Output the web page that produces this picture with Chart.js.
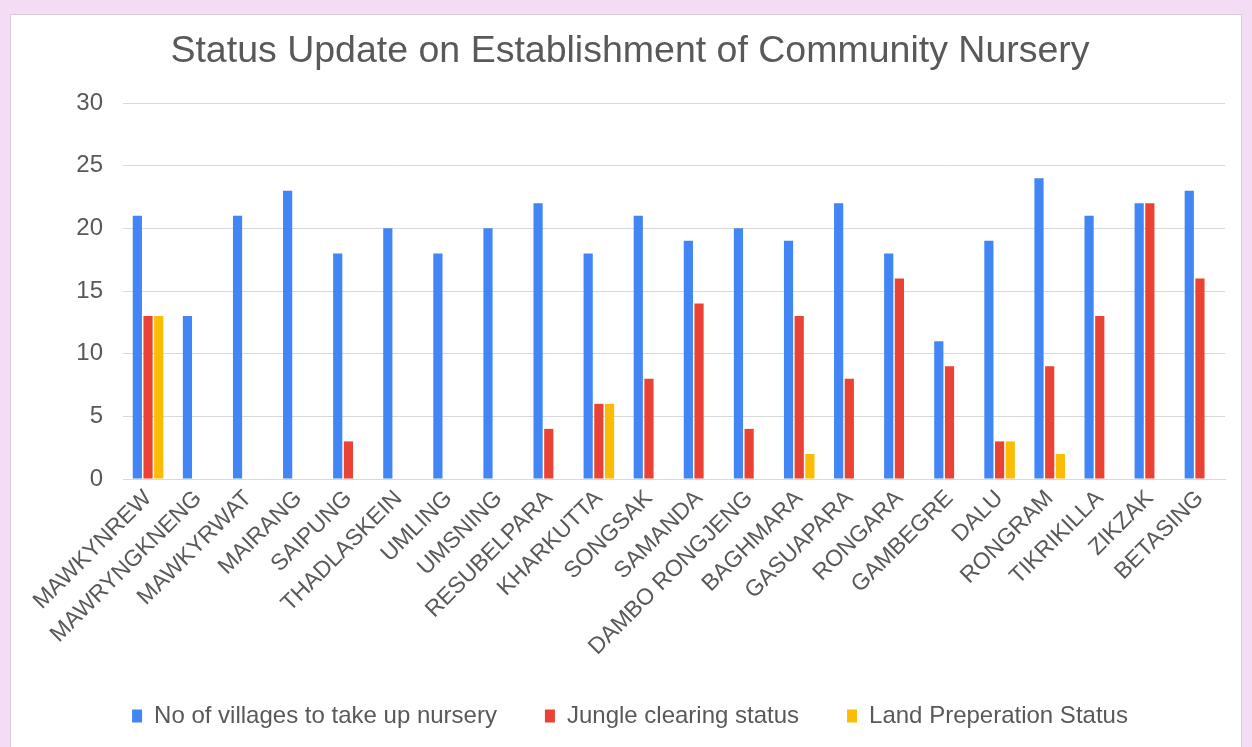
<!DOCTYPE html>
<html>
<head>
<meta charset="utf-8">
<script src="https://cdn.jsdelivr.net/npm/chart.js@4.4.0/dist/chart.umd.min.js"></script>
<style>
  html, body { margin: 0; padding: 0; }
  body { width: 1252px; height: 747px; background: #f5dcf5; overflow: hidden; position: relative; }
  #card { position: absolute; left: 10px; top: 14px; width: 1230px; height: 745px; background: #fff; border: 1px solid #d6d0d6; }
  #card canvas { display: block; }
</style>
</head>
<body>
<div id="card"><canvas id="myChart" width="1230" height="733"></canvas></div>
<script>
var villages = ["MAWKYNREW", "MAWRYNGKNENG", "MAWKYRWAT", "MAIRANG", "SAIPUNG", "THADLASKEIN", "UMLING", "UMSNING",
  "RESUBELPARA", "KHARKUTTA", "SONGSAK", "SAMANDA", "DAMBO RONGJENG", "BAGHMARA", "GASUAPARA", "RONGARA",
  "GAMBEGRE", "DALU", "RONGRAM", "TIKRIKILLA", "ZIKZAK", "BETASING"];
var nurseryVillages = [21, 13, 21, 23, 18, 20, 18, 20, 22, 18, 21, 19, 20, 19, 22, 18, 11, 19, 24, 21, 22, 23];
var jungleClearing = [13, null, null, null, 3, null, null, null, 4, 6, 8, 14, 4, 13, 8, 16, 9, 3, 9, 13, 22, 16];
var landPreparation = [13, null, null, null, null, null, null, null, null, 6, null, null, null, 2, null, null, null, 3, 2, null, null, null];
var seriesNames = ["No of villages to take up nursery", "Jungle clearing status", "Land Preperation Status"];
var barColors = ["#4285f4", "#ea4335", "#fbbc04"];
var yTicks = [0, 5, 10, 15, 20, 25, 30];

var textGrey = "#595959";
Chart.defaults.font.family = "'Liberation Sans', Arial, sans-serif";
Chart.defaults.color = textGrey;

const chart = new Chart("myChart", {
  type: "bar",
  data: {
    labels: villages,
    datasets: [nurseryVillages, jungleClearing, landPreparation].map(function (vals, i) {
      return {
        label: seriesNames[i],
        data: vals,
        backgroundColor: barColors[i],
        categoryPercentage: 0.64,
        barPercentage: 0.86
      };
    })
  },
  options: {
    responsive: false,
    animation: false,
    layout: { padding: { left: 24, right: 16, top: 0, bottom: 10 } },
    plugins: {
      title: {
        display: true,
        text: "Status Update on Establishment of Community Nursery",
        color: textGrey,
        font: { size: 37.5, weight: "normal" },
        padding: { top: 14, bottom: 29 }
      },
      legend: {
        position: "bottom",
        labels: {
          boxWidth: 10,
          boxHeight: 13,
          padding: 48,
          color: textGrey,
          font: { size: 24 }
        }
      },
      tooltip: { enabled: false }
    },
    scales: {
      x: {
        afterFit: function (scale) { scale.height = 177; },
        grid: { display: false, drawTicks: false },
        border: { color: "#d9d9d9", width: 1 },
        ticks: {
          autoSkip: false,
          minRotation: 45,
          maxRotation: 45,
          padding: 6,
          color: textGrey,
          font: { size: 23 }
        }
      },
      y: {
        min: 0,
        max: 30,
        afterBuildTicks: function (scale) {
          scale.ticks = yTicks.map(function (v) { return { value: v }; });
        },
        afterFit: function (scale) { scale.width = 88; },
        grid: { color: "#d9d9d9", drawTicks: false },
        border: { display: false },
        ticks: {
          padding: 20,
          color: textGrey,
          font: { size: 24 }
        }
      }
    }
  }
});
</script>
</body>
</html>
